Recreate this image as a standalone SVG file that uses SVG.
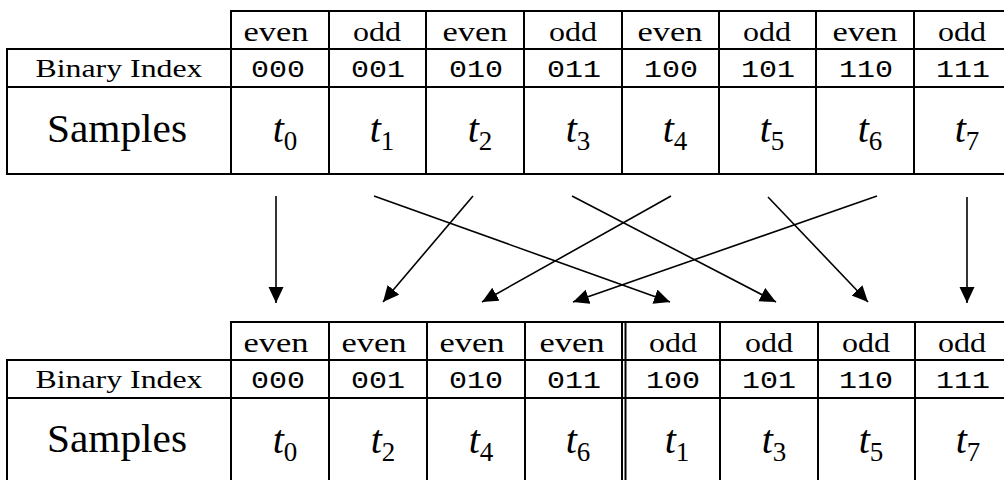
<svg xmlns="http://www.w3.org/2000/svg" width="1004" height="480" viewBox="0 0 1004 480">
<style>
rect{fill:none;stroke:#000;stroke-width:2}
text{font-family:"Liberation Serif","Times New Roman",serif;fill:#000;text-anchor:middle}
.par{font-size:27px}
.lbl{font-size:26px}
.bin{font-family:"Liberation Mono","Courier New",monospace;font-size:24px}
.smp{font-size:40px}
.t{font-size:40px;font-style:italic}
.sub{font-size:27px;font-style:normal}
.conn line{stroke:#000;stroke-width:1.6}
</style>
<defs>
<marker id="ah" markerUnits="userSpaceOnUse" markerWidth="17" markerHeight="16" refX="16" refY="7.5" orient="auto">
<path d="M0,0 L16,7.5 L0,15 Z" fill="#000"/>
</marker>
</defs>
<rect x="0" y="0" width="1004" height="480" style="fill:#fff;stroke:none"/>

<!-- top table -->
<g id="top-labels">
<rect x="7" y="49" width="224" height="38"/><rect x="7" y="87" width="224" height="87"/>
<text class="lbl" x="119" y="77" textLength="167" lengthAdjust="spacingAndGlyphs">Binary Index</text>
<text class="smp" x="117" y="142" textLength="140" lengthAdjust="spacingAndGlyphs">Samples</text>
</g>
<g id="top-t0">
<rect x="231" y="11" width="98" height="38"/><rect x="231" y="49" width="98" height="38"/><rect x="231" y="87" width="98" height="87"/>
<text class="par" x="276" y="41" textLength="65" lengthAdjust="spacingAndGlyphs">even</text>
<text class="bin" x="278" y="77" textLength="54" lengthAdjust="spacingAndGlyphs">000</text>
<text x="285" y="142"><tspan class="t">t</tspan><tspan class="sub" dy="8">0</tspan></text>
</g>
<g id="top-t1">
<rect x="329" y="11" width="97" height="38"/><rect x="329" y="49" width="97" height="38"/><rect x="329" y="87" width="97" height="87"/>
<text class="par" x="377" y="41" textLength="48" lengthAdjust="spacingAndGlyphs">odd</text>
<text class="bin" x="378" y="77" textLength="54" lengthAdjust="spacingAndGlyphs">001</text>
<text x="382" y="142"><tspan class="t">t</tspan><tspan class="sub" dy="8">1</tspan></text>
</g>
<g id="top-t2">
<rect x="426" y="11" width="98" height="38"/><rect x="426" y="49" width="98" height="38"/><rect x="426" y="87" width="98" height="87"/>
<text class="par" x="475" y="41" textLength="65" lengthAdjust="spacingAndGlyphs">even</text>
<text class="bin" x="476" y="77" textLength="54" lengthAdjust="spacingAndGlyphs">010</text>
<text x="480" y="142"><tspan class="t">t</tspan><tspan class="sub" dy="8">2</tspan></text>
</g>
<g id="top-t3">
<rect x="524" y="11" width="98" height="38"/><rect x="524" y="49" width="98" height="38"/><rect x="524" y="87" width="98" height="87"/>
<text class="par" x="573" y="41" textLength="48" lengthAdjust="spacingAndGlyphs">odd</text>
<text class="bin" x="574" y="77" textLength="54" lengthAdjust="spacingAndGlyphs">011</text>
<text x="578" y="142"><tspan class="t">t</tspan><tspan class="sub" dy="8">3</tspan></text>
</g>
<g id="top-t4">
<rect x="622" y="11" width="97" height="38"/><rect x="622" y="49" width="97" height="38"/><rect x="622" y="87" width="97" height="87"/>
<text class="par" x="670" y="41" textLength="65" lengthAdjust="spacingAndGlyphs">even</text>
<text class="bin" x="671" y="77" textLength="54" lengthAdjust="spacingAndGlyphs">100</text>
<text x="675" y="142"><tspan class="t">t</tspan><tspan class="sub" dy="8">4</tspan></text>
</g>
<g id="top-t5">
<rect x="719" y="11" width="97" height="38"/><rect x="719" y="49" width="97" height="38"/><rect x="719" y="87" width="97" height="87"/>
<text class="par" x="767" y="41" textLength="48" lengthAdjust="spacingAndGlyphs">odd</text>
<text class="bin" x="768" y="77" textLength="54" lengthAdjust="spacingAndGlyphs">101</text>
<text x="772" y="142"><tspan class="t">t</tspan><tspan class="sub" dy="8">5</tspan></text>
</g>
<g id="top-t6">
<rect x="816" y="11" width="98" height="38"/><rect x="816" y="49" width="98" height="38"/><rect x="816" y="87" width="98" height="87"/>
<text class="par" x="865" y="41" textLength="65" lengthAdjust="spacingAndGlyphs">even</text>
<text class="bin" x="866" y="77" textLength="54" lengthAdjust="spacingAndGlyphs">110</text>
<text x="870" y="142"><tspan class="t">t</tspan><tspan class="sub" dy="8">6</tspan></text>
</g>
<g id="top-t7">
<rect x="914" y="11" width="98" height="38"/><rect x="914" y="49" width="98" height="38"/><rect x="914" y="87" width="98" height="87"/>
<text class="par" x="962" y="41" textLength="48" lengthAdjust="spacingAndGlyphs">odd</text>
<text class="bin" x="963" y="77" textLength="54" lengthAdjust="spacingAndGlyphs">111</text>
<text x="967" y="142"><tspan class="t">t</tspan><tspan class="sub" dy="8">7</tspan></text>
</g>

<!-- connectors -->
<g class="conn" id="connectors">
<line x1="276" y1="196" x2="276" y2="303" marker-end="url(#ah)"/>
<line x1="374" y1="196" x2="670" y2="302" marker-end="url(#ah)"/>
<line x1="473" y1="196" x2="383" y2="302" marker-end="url(#ah)"/>
<line x1="572" y1="196" x2="776" y2="302" marker-end="url(#ah)"/>
<line x1="671" y1="196" x2="482" y2="302" marker-end="url(#ah)"/>
<line x1="768" y1="197" x2="868" y2="302" marker-end="url(#ah)"/>
<line x1="877" y1="196" x2="573" y2="302" marker-end="url(#ah)"/>
<line x1="967" y1="197" x2="967" y2="303" marker-end="url(#ah)"/>
</g>

<!-- bottom table -->
<g id="bot-labels">
<rect x="7" y="360" width="224" height="38"/><rect x="7" y="398" width="224" height="90"/>
<text class="lbl" x="119" y="388" textLength="167" lengthAdjust="spacingAndGlyphs">Binary Index</text>
<text class="smp" x="117" y="452" textLength="140" lengthAdjust="spacingAndGlyphs">Samples</text>
</g>
<g id="bot-t0">
<rect x="231" y="322" width="98" height="38"/><rect x="231" y="360" width="98" height="38"/><rect x="231" y="398" width="98" height="90"/>
<text class="par" x="276" y="352" textLength="65" lengthAdjust="spacingAndGlyphs">even</text>
<text class="bin" x="278" y="388" textLength="54" lengthAdjust="spacingAndGlyphs">000</text>
<text x="285" y="453"><tspan class="t">t</tspan><tspan class="sub" dy="8">0</tspan></text>
</g>
<g id="bot-t2">
<rect x="329" y="322" width="98" height="38"/><rect x="329" y="360" width="98" height="38"/><rect x="329" y="398" width="98" height="90"/>
<text class="par" x="374" y="352" textLength="65" lengthAdjust="spacingAndGlyphs">even</text>
<text class="bin" x="378" y="388" textLength="54" lengthAdjust="spacingAndGlyphs">001</text>
<text x="383" y="453"><tspan class="t">t</tspan><tspan class="sub" dy="8">2</tspan></text>
</g>
<g id="bot-t4">
<rect x="427" y="322" width="98" height="38"/><rect x="427" y="360" width="98" height="38"/><rect x="427" y="398" width="98" height="90"/>
<text class="par" x="472" y="352" textLength="65" lengthAdjust="spacingAndGlyphs">even</text>
<text class="bin" x="476" y="388" textLength="54" lengthAdjust="spacingAndGlyphs">010</text>
<text x="481" y="453"><tspan class="t">t</tspan><tspan class="sub" dy="8">4</tspan></text>
</g>
<g id="bot-t6">
<rect x="525" y="322" width="100.5" height="38"/><rect x="525" y="360" width="100.5" height="38"/><rect x="525" y="398" width="100.5" height="90"/>
<text class="par" x="572" y="352" textLength="65" lengthAdjust="spacingAndGlyphs">even</text>
<text class="bin" x="574" y="388" textLength="54" lengthAdjust="spacingAndGlyphs">011</text>
<text x="578" y="453"><tspan class="t">t</tspan><tspan class="sub" dy="8">6</tspan></text>
</g>
<g id="bot-t1">
<rect x="622" y="322" width="98" height="38"/><rect x="622" y="360" width="98" height="38"/><rect x="622" y="398" width="98" height="90"/>
<text class="par" x="673" y="352" textLength="48" lengthAdjust="spacingAndGlyphs">odd</text>
<text class="bin" x="673" y="388" textLength="54" lengthAdjust="spacingAndGlyphs">100</text>
<text x="677" y="453"><tspan class="t">t</tspan><tspan class="sub" dy="8">1</tspan></text>
</g>
<g id="bot-t3">
<rect x="720" y="322" width="98" height="38"/><rect x="720" y="360" width="98" height="38"/><rect x="720" y="398" width="98" height="90"/>
<text class="par" x="769" y="352" textLength="48" lengthAdjust="spacingAndGlyphs">odd</text>
<text class="bin" x="769" y="388" textLength="54" lengthAdjust="spacingAndGlyphs">101</text>
<text x="774" y="453"><tspan class="t">t</tspan><tspan class="sub" dy="8">3</tspan></text>
</g>
<g id="bot-t5">
<rect x="818" y="322" width="97" height="38"/><rect x="818" y="360" width="97" height="38"/><rect x="818" y="398" width="97" height="90"/>
<text class="par" x="866" y="352" textLength="48" lengthAdjust="spacingAndGlyphs">odd</text>
<text class="bin" x="866" y="388" textLength="54" lengthAdjust="spacingAndGlyphs">110</text>
<text x="871" y="453"><tspan class="t">t</tspan><tspan class="sub" dy="8">5</tspan></text>
</g>
<g id="bot-t7">
<rect x="915" y="322" width="98" height="38"/><rect x="915" y="360" width="98" height="38"/><rect x="915" y="398" width="98" height="90"/>
<text class="par" x="962" y="352" textLength="48" lengthAdjust="spacingAndGlyphs">odd</text>
<text class="bin" x="963" y="388" textLength="54" lengthAdjust="spacingAndGlyphs">111</text>
<text x="968" y="453"><tspan class="t">t</tspan><tspan class="sub" dy="8">7</tspan></text>
</g>
</svg>
